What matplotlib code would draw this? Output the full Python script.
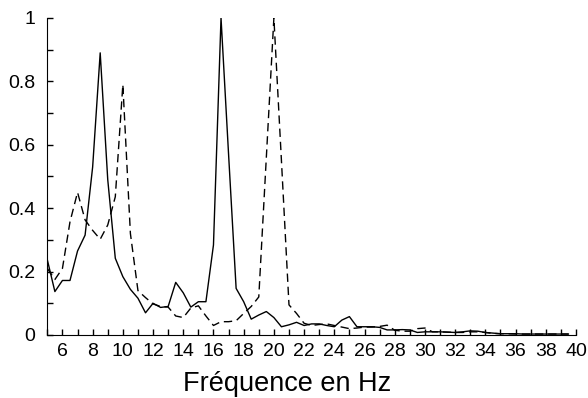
import numpy as np
import matplotlib
matplotlib.use('Agg')
import matplotlib.pyplot as plt
from matplotlib.ticker import MultipleLocator, FormatStrFormatter

plt.rcParams['font.family'] = ['Liberation Sans', 'DejaVu Sans']

# frequency grid (Hz), 0.5 Hz steps
freq = np.arange(5.0, 40.0, 0.5)

# solid curve
solid = [0.237, 0.137, 0.172, 0.172, 0.265, 0.315, 0.53, 0.89, 0.49, 0.242,
         0.184, 0.144, 0.116, 0.07, 0.10, 0.087, 0.09, 0.166, 0.133, 0.088,
         0.105, 0.105, 0.284, 1.0, 0.57, 0.147, 0.105, 0.05, 0.063, 0.074,
         0.055, 0.026, 0.032, 0.04, 0.03, 0.035, 0.035, 0.03, 0.026, 0.047,
         0.058, 0.026, 0.026, 0.026, 0.024, 0.016, 0.016, 0.017, 0.016, 0.008,
         0.01, 0.01, 0.01, 0.009, 0.008, 0.01, 0.013, 0.012, 0.008, 0.006,
         0.004, 0.004, 0.004, 0.003, 0.003, 0.003, 0.003, 0.003, 0.003, 0.003]

# dashed curve
dashed = [0.21, 0.175, 0.21, 0.357, 0.45, 0.363, 0.33, 0.302, 0.347, 0.436,
          0.79, 0.32, 0.14, 0.118, 0.098, 0.09, 0.088, 0.06, 0.055, 0.085,
          0.092, 0.06, 0.03, 0.042, 0.042, 0.045, 0.068, 0.09, 0.12, 0.56,
          1.0, 0.55, 0.095, 0.068, 0.037, 0.03, 0.033, 0.035, 0.03, 0.025,
          0.02, 0.022, 0.025, 0.025, 0.027, 0.031, 0.015, 0.012, 0.012, 0.02,
          0.022, 0.01, 0.01, 0.009, 0.008, 0.008, 0.01, 0.01, 0.008, 0.005,
          0.004, 0.004, 0.003, 0.003, 0.003, 0.003, 0.003, 0.003, 0.003, 0.003]

fig = plt.figure(figsize=(5.88, 3.98), dpi=100)
ax = fig.add_axes([0.0805, 0.1583, 0.899, 0.7965])

ax.plot(freq, solid, color='black', lw=1.0)
ax.plot(freq, dashed, color='black', lw=1.0, dashes=(6, 3.5))

ax.set_xlim(5, 40)
ax.set_ylim(0, 1)

ax.spines['top'].set_visible(False)
ax.spines['right'].set_visible(False)

ax.xaxis.set_major_locator(MultipleLocator(2))
ax.xaxis.set_minor_locator(MultipleLocator(1))
ax.yaxis.set_major_locator(MultipleLocator(0.2))
ax.yaxis.set_minor_locator(MultipleLocator(0.1))
ax.yaxis.set_major_formatter(FormatStrFormatter('%g'))

ax.tick_params(which='both', direction='in', length=4, width=1)
ax.tick_params(axis='x', labelsize=14, pad=6)
ax.tick_params(axis='y', labelsize=14, pad=8.5)

fig.text(0.488, 0.018, 'Fréquence en Hz', ha='center', va='baseline', fontsize=19.5)

plt.savefig('out.png', dpi=100)
plt.close()
